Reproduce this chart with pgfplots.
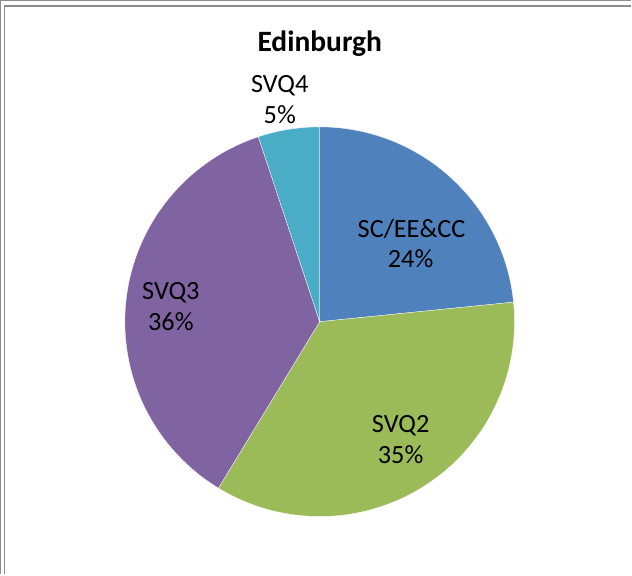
\documentclass[border=0pt]{standalone}
\usepackage{pgfplots}
\usepackage{pgfplotstable}
\pgfplotsset{compat=1.18}
\usepackage{fontspec}
\setmainfont{Carlito}
\definecolor{cA}{HTML}{4F81BD}
\definecolor{cB}{HTML}{9BBB59}
\definecolor{cC}{HTML}{8064A2}
\definecolor{cD}{HTML}{4BACC6}
\definecolor{frame}{HTML}{8C8C8C}
\pgfplotstableread{
id value
1 23.4
2 35.3
3 36.2
4 5.1
}\piedata
\begin{document}
\begin{tikzpicture}
\pgfplotstablegetelem{0}{value}\of\piedata \let\vA\pgfplotsretval
\pgfplotstablegetelem{1}{value}\of\piedata \let\vB\pgfplotsretval
\pgfplotstablegetelem{2}{value}\of\piedata \let\vC\pgfplotsretval
\pgfplotstablegetelem{3}{value}\of\piedata \let\vD\pgfplotsretval
\pgfmathsetmacro\aA{90}
\pgfmathsetmacro\aB{\aA-3.6*\vA}
\pgfmathsetmacro\aC{\aB-3.6*\vB}
\pgfmathsetmacro\aD{\aC-3.6*\vC}
\pgfmathsetmacro\aE{\aD-3.6*\vD}
\begin{axis}[
  at={(0,0)}, anchor=origin,
  x=1pt, y=1pt, xmin=0, xmax=632, ymin=0, ymax=575,
  scale only axis, hide axis, clip=false,
]
\addplot[fill=cA, draw=white, line width=0.3pt, domain=\aB:\aA, samples=90] ({320+195*cos(x)},{253+195*sin(x)}) -- (axis cs:320,253) -- cycle;
\addplot[fill=cB, draw=white, line width=0.3pt, domain=\aC:\aB, samples=90] ({320+195*cos(x)},{253+195*sin(x)}) -- (axis cs:320,253) -- cycle;
\addplot[fill=cC, draw=white, line width=0.3pt, domain=\aD:\aC, samples=90] ({320+195*cos(x)},{253+195*sin(x)}) -- (axis cs:320,253) -- cycle;
\addplot[fill=cD, draw=white, line width=0.3pt, domain=\aE:\aD, samples=30] ({320+195*cos(x)},{253+195*sin(x)}) -- (axis cs:320,253) -- cycle;
% frames
\draw[frame, line width=1.2pt] (axis cs:0.6,0) -- (axis cs:0.6,574.4) -- (axis cs:632,574.4);
\draw[frame, line width=1.2pt] (axis cs:4.5,0) -- (axis cs:4.5,569) -- (axis cs:632,569);
% title
\node[anchor=base, font=\fontsize{29.5}{35}\selectfont\bfseries] at (axis cs:320,523) {Edinburgh};
% labels
\tikzset{lab/.style={anchor=base, font=\fontsize{26.3}{31}\selectfont, inner sep=0pt}}
\node[lab] at (axis cs:412,337) {SC/EE\&CC};
\node[lab] at (axis cs:411,307) {24\%};
\node[lab] at (axis cs:401,142) {SVQ2};
\node[lab] at (axis cs:401,111) {35\%};
\node[lab] at (axis cs:171,275) {SVQ3};
\node[lab] at (axis cs:171,244) {36\%};
\node[lab] at (axis cs:280,482) {SVQ4};
\node[lab] at (axis cs:280,451) {5\%};
\end{axis}
\useasboundingbox (0,0) rectangle (632pt,575pt);
\end{tikzpicture}
\end{document}
